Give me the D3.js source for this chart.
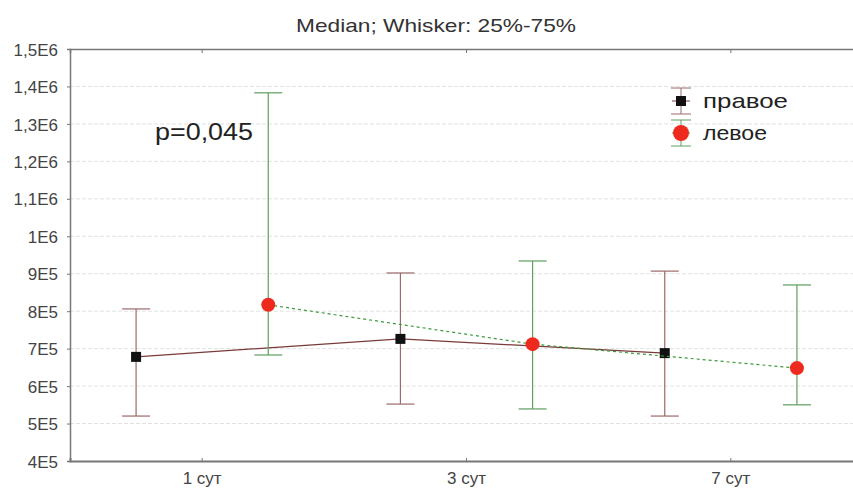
<!DOCTYPE html>
<html>
<head>
<meta charset="utf-8">
<script src="https://cdn.jsdelivr.net/npm/d3@7"></script>
<style>
  body { margin: 0; background: #fff; }
  svg { display: block; font-family: "Liberation Sans", Arial, sans-serif; }
</style>
</head>
<body>
<script>
// data
var categories = ["1 сут", "3 сут", "7 сут"];
var rightMedian = [678000, 726000, 688000];
var rightLow    = [520000, 552000, 520000];
var rightHigh   = [806000, 902000, 907000];
var leftMedian  = [817000, 712000, 648000];
var leftLow     = [683000, 539000, 550000];
var leftHigh    = [1383000, 934000, 870000];
var yTicks = [400000, 500000, 600000, 700000, 800000, 900000, 1000000, 1100000, 1200000, 1300000, 1400000, 1500000];
var yTickLabels = ["4E5", "5E5", "6E5", "7E5", "8E5", "9E5", "1E6", "1,1E6", "1,2E6", "1,3E6", "1,4E6", "1,5E6"];
var seriesNames = ["правое", "левое"];

var W = 853, H = 490;
var mL = 70, mT = 49, mB = 461, mR = 863;

var svg = d3.select("body").append("svg").attr("width", W).attr("height", H);

var x = d3.scaleBand().domain(categories).range([mL, mR]);
var y = d3.scaleLinear().domain([400000, 1500000]).range([mB, mT]);
var off = x.bandwidth() / 4;

function cx(i) { return x(categories[i]) + x.bandwidth() / 2; }

// grid
svg.append("g").selectAll("line")
  .data(yTicks.slice(1, -1))
  .enter().append("line")
  .attr("x1", mL).attr("x2", W)
  .attr("y1", function (d) { return y(d); })
  .attr("y2", function (d) { return y(d); })
  .attr("stroke", "#e2e2e2").attr("stroke-width", 1)
  .attr("stroke-dasharray", "4,2");

// y axis
var yAxis = d3.axisLeft(y).tickValues(yTicks)
  .tickFormat(function (d, i) { return yTickLabels[i]; })
  .tickSize(3).tickPadding(9);
var gy = svg.append("g").attr("transform", "translate(" + mL + ",0)").call(yAxis);
gy.select(".domain").attr("stroke", "#777").attr("stroke-width", 1.5);
gy.selectAll(".tick line").attr("stroke", "#777");
gy.selectAll("text").attr("font-size", 17).attr("fill", "#444").attr("dy", "0.36em");

// bottom axis
var xAxis = d3.axisBottom(x).tickSize(-3).tickPadding(11);
var gx = svg.append("g").attr("transform", "translate(0," + mB + ")").call(xAxis);
gx.select(".domain").attr("stroke", "#777").attr("stroke-width", 2);
gx.selectAll(".tick line").attr("stroke", "#777");
gx.selectAll("text").attr("font-size", 17).attr("fill", "#444");

// top frame
var gt = svg.append("g").attr("transform", "translate(0," + mT + ")")
  .call(d3.axisTop(x).tickSize(-4).tickFormat(""));
gt.select(".domain").attr("stroke", "#777").attr("stroke-width", 1.5);
gt.selectAll(".tick line").attr("stroke", "#777");

// title
svg.append("text").attr("x", 436).attr("y", 32).attr("text-anchor", "middle")
  .attr("font-size", 19).attr("fill", "#333")
  .attr("textLength", 280).attr("lengthAdjust", "spacingAndGlyphs")
  .text("Median; Whisker: 25%-75%");

function series(med, lo, hi, dx, whiskerColor, lineColor, dash) {
  var g = svg.append("g");
  var line = d3.line()
    .x(function (d, i) { return cx(i) + dx; })
    .y(function (d) { return y(d); });
  g.append("path").datum(med).attr("d", line)
    .attr("fill", "none").attr("stroke", lineColor).attr("stroke-width", 1.2)
    .attr("stroke-dasharray", dash);
  categories.forEach(function (c, i) {
    var px = cx(i) + dx;
    g.append("line").attr("x1", px).attr("x2", px)
      .attr("y1", y(lo[i])).attr("y2", y(hi[i]))
      .attr("stroke", whiskerColor).attr("stroke-width", 1.2);
    [lo[i], hi[i]].forEach(function (v) {
      g.append("line").attr("x1", px - 14).attr("x2", px + 14)
        .attr("y1", y(v)).attr("y2", y(v))
        .attr("stroke", whiskerColor).attr("stroke-width", 1.2);
    });
  });
  return g;
}

var gR = series(rightMedian, rightLow, rightHigh, -off, "#9a6a6a", "#7a3a3a", null);
var gL = series(leftMedian, leftLow, leftHigh, off, "#5e9e5e", "#3c9a3c", "3,3");

gR.selectAll("rect").data(rightMedian).enter().append("rect")
  .attr("x", function (d, i) { return cx(i) - off - 5; })
  .attr("y", function (d) { return y(d) - 5; })
  .attr("width", 10).attr("height", 10).attr("fill", "#111");

gL.selectAll("circle").data(leftMedian).enter().append("circle")
  .attr("cx", function (d, i) { return cx(i) + off; })
  .attr("cy", function (d) { return y(d); })
  .attr("r", 7).attr("fill", "#ee2a1e");

// p value
svg.append("text").attr("x", 155).attr("y", 140)
  .attr("font-size", 23).attr("fill", "#222")
  .attr("textLength", 98).attr("lengthAdjust", "spacingAndGlyphs")
  .text("p=0,045");

// legend
var lx = 681;
var legend = [
  { name: seriesNames[0], y: 101, color: "#9a6a6a", line: "#7a3a3a", mark: "rect", w: 85 },
  { name: seriesNames[1], y: 133, color: "#5e9e5e", line: "#3c9a3c", mark: "circle", w: 64 }
];
legend.forEach(function (d) {
  var g = svg.append("g");
  g.append("line").attr("x1", lx).attr("x2", lx).attr("y1", d.y - 13).attr("y2", d.y + 13)
    .attr("stroke", d.color);
  [d.y - 13, d.y + 13].forEach(function (yy) {
    g.append("line").attr("x1", lx - 10).attr("x2", lx + 10).attr("y1", yy).attr("y2", yy)
      .attr("stroke", d.color);
  });
  g.append("line").attr("x1", lx - 9).attr("x2", lx + 9).attr("y1", d.y).attr("y2", d.y)
    .attr("stroke", d.line);
  if (d.mark === "rect") {
    g.append("rect").attr("x", lx - 5).attr("y", d.y - 5).attr("width", 10).attr("height", 10).attr("fill", "#111");
  } else {
    g.append("circle").attr("cx", lx).attr("cy", d.y).attr("r", 8).attr("fill", "#ee2a1e");
  }
  g.append("text").attr("x", 703).attr("y", d.y + 7)
    .attr("font-size", 21).attr("fill", "#222")
    .attr("textLength", d.w).attr("lengthAdjust", "spacingAndGlyphs")
    .text(d.name);
});
</script>
</body>
</html>
